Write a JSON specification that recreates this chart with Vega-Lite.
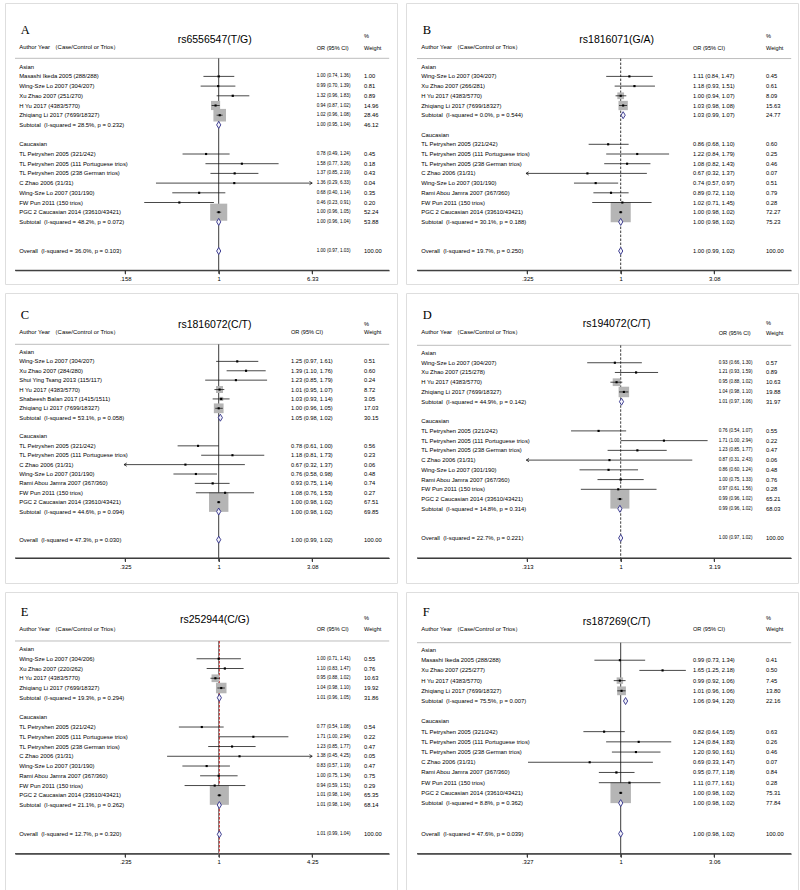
{
"$schema":"https://vega.github.io/schema/vega-lite/v6.json",
"background":"white",
"padding":{"left":4,"top":2,"right":4,"bottom":4},
"config":{"view":{"stroke":"#dedede","strokeWidth":1},"text":{"font":"Liberation Sans","fontSize":5.9,"align":"left","baseline":"middle","color":"#000000"}},
"datasets":{
"A":[
{"row":0,"label":"Asian","kind":"group"},
{"row":1,"label":"Masashi Ikeda 2005 (288/288)","kind":"study","or":1.00,"lo":0.74,"hi":1.36,"w":1.00,"ci":"1.00 (0.74, 1.36)","wt":"1.00"},
{"row":2,"label":"Wing-Sze Lo 2007 (304/207)","kind":"study","or":0.99,"lo":0.70,"hi":1.39,"w":0.81,"ci":"0.99 (0.70, 1.39)","wt":"0.81"},
{"row":3,"label":"Xu Zhao 2007 (251/270)","kind":"study","or":1.32,"lo":0.96,"hi":1.83,"w":0.89,"ci":"1.32 (0.96, 1.83)","wt":"0.89"},
{"row":4,"label":"H Yu 2017 (4383/5770)","kind":"study","or":0.94,"lo":0.87,"hi":1.02,"w":14.96,"ci":"0.94 (0.87, 1.02)","wt":"14.96"},
{"row":5,"label":"Zhiqiang Li 2017 (7699/18327)","kind":"study","or":1.02,"lo":0.96,"hi":1.08,"w":28.46,"ci":"1.02 (0.96, 1.08)","wt":"28.46"},
{"row":6,"label":"Subtotal\u00a0 (I-squared = 28.5%, p = 0.232)","kind":"sub","or":1.00,"lo":0.95,"hi":1.04,"w":46.12,"ci":"1.00 (0.95, 1.04)","wt":"46.12"},
{"row":8,"label":"Caucasian","kind":"group"},
{"row":9,"label":"TL Petryshen 2005 (321/242)","kind":"study","or":0.78,"lo":0.49,"hi":1.24,"w":0.45,"ci":"0.78 (0.49, 1.24)","wt":"0.45"},
{"row":10,"label":"TL Petryshen 2005 (111 Portuguese trios)","kind":"study","or":1.58,"lo":0.77,"hi":3.26,"w":0.18,"ci":"1.58 (0.77, 3.26)","wt":"0.18"},
{"row":11,"label":"TL Petryshen 2005 (238 German trios)","kind":"study","or":1.37,"lo":0.85,"hi":2.19,"w":0.43,"ci":"1.37 (0.85, 2.19)","wt":"0.43"},
{"row":12,"label":"C Zhao 2006 (31/31)","kind":"study","or":1.36,"lo":0.29,"hi":6.33,"w":0.04,"ci":"1.36 (0.29, 6.33)","wt":"0.04"},
{"row":13,"label":"Wing-Sze Lo 2007 (301/190)","kind":"study","or":0.68,"lo":0.40,"hi":1.14,"w":0.35,"ci":"0.68 (0.40, 1.14)","wt":"0.35"},
{"row":14,"label":"FW Pun 2011 (150 trios)","kind":"study","or":0.46,"lo":0.23,"hi":0.91,"w":0.20,"ci":"0.46 (0.23, 0.91)","wt":"0.20"},
{"row":15,"label":"PGC 2 Caucasian 2014 (33610/43421)","kind":"study","or":1.00,"lo":0.96,"hi":1.05,"w":52.24,"ci":"1.00 (0.96, 1.05)","wt":"52.24"},
{"row":16,"label":"Subtotal\u00a0 (I-squared = 48.2%, p = 0.072)","kind":"sub","or":1.00,"lo":0.96,"hi":1.04,"w":53.88,"ci":"1.00 (0.96, 1.04)","wt":"53.88"},
{"row":19,"label":"Overall\u00a0 (I-squared = 36.0%, p = 0.103)","kind":"all","or":1.00,"lo":0.97,"hi":1.03,"w":100.00,"ci":"1.00 (0.97, 1.03)","wt":"100.00"}
],
"B":[
{"row":0,"label":"Asian","kind":"group"},
{"row":1,"label":"Wing-Sze Lo 2007 (304/207)","kind":"study","or":1.11,"lo":0.84,"hi":1.47,"w":0.45,"ci":"1.11 (0.84, 1.47)","wt":"0.45"},
{"row":2,"label":"Xu Zhao 2007 (266/281)","kind":"study","or":1.18,"lo":0.93,"hi":1.51,"w":0.61,"ci":"1.18 (0.93, 1.51)","wt":"0.61"},
{"row":3,"label":"H Yu 2017 (4383/5770)","kind":"study","or":1.00,"lo":0.94,"hi":1.07,"w":8.09,"ci":"1.00 (0.94, 1.07)","wt":"8.09"},
{"row":4,"label":"Zhiqiang Li 2017 (7699/18327)","kind":"study","or":1.03,"lo":0.98,"hi":1.08,"w":15.63,"ci":"1.03 (0.98, 1.08)","wt":"15.63"},
{"row":5,"label":"Subtotal\u00a0 (I-squared = 0.0%, p = 0.544)","kind":"sub","or":1.03,"lo":0.99,"hi":1.07,"w":24.77,"ci":"1.03 (0.99, 1.07)","wt":"24.77"},
{"row":7,"label":"Caucasian","kind":"group"},
{"row":8,"label":"TL Petryshen 2005 (321/242)","kind":"study","or":0.86,"lo":0.68,"hi":1.10,"w":0.60,"ci":"0.86 (0.68, 1.10)","wt":"0.60"},
{"row":9,"label":"TL Petryshen 2005 (111 Portuguese trios)","kind":"study","or":1.22,"lo":0.84,"hi":1.79,"w":0.25,"ci":"1.22 (0.84, 1.79)","wt":"0.25"},
{"row":10,"label":"TL Petryshen 2005 (238 German trios)","kind":"study","or":1.08,"lo":0.82,"hi":1.43,"w":0.46,"ci":"1.08 (0.82, 1.43)","wt":"0.46"},
{"row":11,"label":"C Zhao 2006 (31/31)","kind":"study","or":0.67,"lo":0.32,"hi":1.37,"w":0.07,"ci":"0.67 (0.32, 1.37)","wt":"0.07"},
{"row":12,"label":"Wing-Sze Lo 2007 (301/190)","kind":"study","or":0.74,"lo":0.57,"hi":0.97,"w":0.51,"ci":"0.74 (0.57, 0.97)","wt":"0.51"},
{"row":13,"label":"Rami Abou Jamra 2007 (367/360)","kind":"study","or":0.89,"lo":0.72,"hi":1.10,"w":0.79,"ci":"0.89 (0.72, 1.10)","wt":"0.79"},
{"row":14,"label":"FW Pun 2011 (150 trios)","kind":"study","or":1.02,"lo":0.71,"hi":1.45,"w":0.28,"ci":"1.02 (0.71, 1.45)","wt":"0.28"},
{"row":15,"label":"PGC 2 Caucasian 2014 (33610/43421)","kind":"study","or":1.00,"lo":0.98,"hi":1.02,"w":72.27,"ci":"1.00 (0.98, 1.02)","wt":"72.27"},
{"row":16,"label":"Subtotal\u00a0 (I-squared = 30.1%, p = 0.188)","kind":"sub","or":1.00,"lo":0.98,"hi":1.02,"w":75.23,"ci":"1.00 (0.98, 1.02)","wt":"75.23"},
{"row":19,"label":"Overall\u00a0 (I-squared = 19.7%, p = 0.250)","kind":"all","or":1.00,"lo":0.99,"hi":1.02,"w":100.00,"ci":"1.00 (0.99, 1.02)","wt":"100.00"}
],
"C":[
{"row":0,"label":"Asian","kind":"group"},
{"row":1,"label":"Wing-Sze Lo 2007 (304/207)","kind":"study","or":1.25,"lo":0.97,"hi":1.61,"w":0.51,"ci":"1.25 (0.97, 1.61)","wt":"0.51"},
{"row":2,"label":"Xu Zhao 2007 (284/280)","kind":"study","or":1.39,"lo":1.10,"hi":1.76,"w":0.60,"ci":"1.39 (1.10, 1.76)","wt":"0.60"},
{"row":3,"label":"Shui Ying Tsang 2013 (115/117)","kind":"study","or":1.23,"lo":0.85,"hi":1.79,"w":0.24,"ci":"1.23 (0.85, 1.79)","wt":"0.24"},
{"row":4,"label":"H Yu 2017 (4383/5770)","kind":"study","or":1.01,"lo":0.95,"hi":1.07,"w":8.72,"ci":"1.01 (0.95, 1.07)","wt":"8.72"},
{"row":5,"label":"Shabeesh Balan 2017 (1415/1511)","kind":"study","or":1.03,"lo":0.93,"hi":1.14,"w":3.05,"ci":"1.03 (0.93, 1.14)","wt":"3.05"},
{"row":6,"label":"Zhiqiang Li 2017 (7699/18327)","kind":"study","or":1.00,"lo":0.96,"hi":1.05,"w":17.03,"ci":"1.00 (0.96, 1.05)","wt":"17.03"},
{"row":7,"label":"Subtotal\u00a0 (I-squared = 53.1%, p = 0.058)","kind":"sub","or":1.02,"lo":0.98,"hi":1.06,"w":30.15,"ci":"1.05 (0.98, 1.02)","wt":"30.15"},
{"row":9,"label":"Caucasian","kind":"group"},
{"row":10,"label":"TL Petryshen 2005 (321/242)","kind":"study","or":0.78,"lo":0.61,"hi":1.00,"w":0.56,"ci":"0.78 (0.61, 1.00)","wt":"0.56"},
{"row":11,"label":"TL Petryshen 2005 (111 Portuguese trios)","kind":"study","or":1.18,"lo":0.81,"hi":1.73,"w":0.23,"ci":"1.18 (0.81, 1.73)","wt":"0.23"},
{"row":12,"label":"C Zhao 2006 (31/31)","kind":"study","or":0.67,"lo":0.32,"hi":1.37,"w":0.06,"ci":"0.67 (0.32, 1.37)","wt":"0.06"},
{"row":13,"label":"Wing-Sze Lo 2007 (301/190)","kind":"study","or":0.76,"lo":0.58,"hi":0.98,"w":0.48,"ci":"0.76 (0.58, 0.98)","wt":"0.48"},
{"row":14,"label":"Rami Abou Jamra 2007 (367/360)","kind":"study","or":0.93,"lo":0.75,"hi":1.14,"w":0.74,"ci":"0.93 (0.75, 1.14)","wt":"0.74"},
{"row":15,"label":"FW Pun 2011 (150 trios)","kind":"study","or":1.08,"lo":0.76,"hi":1.53,"w":0.27,"ci":"1.08 (0.76, 1.53)","wt":"0.27"},
{"row":16,"label":"PGC 2 Caucasian 2014 (33610/43421)","kind":"study","or":1.00,"lo":0.98,"hi":1.02,"w":67.51,"ci":"1.00 (0.98, 1.02)","wt":"67.51"},
{"row":17,"label":"Subtotal\u00a0 (I-squared = 44.6%, p = 0.094)","kind":"sub","or":1.00,"lo":0.98,"hi":1.02,"w":69.85,"ci":"1.00 (0.98, 1.02)","wt":"69.85"},
{"row":20,"label":"Overall\u00a0 (I-squared = 47.3%, p = 0.030)","kind":"all","or":1.00,"lo":0.99,"hi":1.02,"w":100.00,"ci":"1.00 (0.99, 1.02)","wt":"100.00"}
],
"D":[
{"row":0,"label":"Asian","kind":"group"},
{"row":1,"label":"Wing-Sze Lo 2007 (304/207)","kind":"study","or":0.93,"lo":0.66,"hi":1.30,"w":0.57,"ci":"0.93 (0.66, 1.30)","wt":"0.57"},
{"row":2,"label":"Xu Zhao 2007 (215/278)","kind":"study","or":1.21,"lo":0.93,"hi":1.59,"w":0.89,"ci":"1.21 (0.93, 1.59)","wt":"0.89"},
{"row":3,"label":"H Yu 2017 (4383/5770)","kind":"study","or":0.95,"lo":0.88,"hi":1.02,"w":10.63,"ci":"0.95 (0.88, 1.02)","wt":"10.63"},
{"row":4,"label":"Zhiqiang Li 2017 (7699/18327)","kind":"study","or":1.04,"lo":0.98,"hi":1.10,"w":19.88,"ci":"1.04 (0.98, 1.10)","wt":"19.88"},
{"row":5,"label":"Subtotal\u00a0 (I-squared = 44.9%, p = 0.142)","kind":"sub","or":1.01,"lo":0.97,"hi":1.06,"w":31.97,"ci":"1.01 (0.97, 1.06)","wt":"31.97"},
{"row":7,"label":"Caucasian","kind":"group"},
{"row":8,"label":"TL Petryshen 2005 (321/242)","kind":"study","or":0.76,"lo":0.54,"hi":1.07,"w":0.55,"ci":"0.76 (0.54, 1.07)","wt":"0.55"},
{"row":9,"label":"TL Petryshen 2005 (111 Portuguese trios)","kind":"study","or":1.71,"lo":1.00,"hi":2.94,"w":0.22,"ci":"1.71 (1.00, 2.94)","wt":"0.22"},
{"row":10,"label":"TL Petryshen 2005 (238 German trios)","kind":"study","or":1.23,"lo":0.85,"hi":1.77,"w":0.47,"ci":"1.23 (0.85, 1.77)","wt":"0.47"},
{"row":11,"label":"C Zhao 2006 (31/31)","kind":"study","or":0.87,"lo":0.31,"hi":2.43,"w":0.06,"ci":"0.87 (0.31, 2.43)","wt":"0.06"},
{"row":12,"label":"Wing-Sze Lo 2007 (301/190)","kind":"study","or":0.86,"lo":0.60,"hi":1.24,"w":0.48,"ci":"0.86 (0.60, 1.24)","wt":"0.48"},
{"row":13,"label":"Rami Abou Jamra 2007 (367/360)","kind":"study","or":1.00,"lo":0.75,"hi":1.33,"w":0.76,"ci":"1.00 (0.75, 1.33)","wt":"0.76"},
{"row":14,"label":"FW Pun 2011 (150 trios)","kind":"study","or":0.97,"lo":0.61,"hi":1.56,"w":0.28,"ci":"0.97 (0.61, 1.56)","wt":"0.28"},
{"row":15,"label":"PGC 2 Caucasian 2014 (33610/43421)","kind":"study","or":0.99,"lo":0.96,"hi":1.02,"w":65.21,"ci":"0.99 (0.96, 1.02)","wt":"65.21"},
{"row":16,"label":"Subtotal\u00a0 (I-squared = 14.8%, p = 0.314)","kind":"sub","or":0.99,"lo":0.96,"hi":1.02,"w":68.03,"ci":"0.99 (0.96, 1.02)","wt":"68.03"},
{"row":19,"label":"Overall\u00a0 (I-squared = 22.7%, p = 0.221)","kind":"all","or":1.00,"lo":0.97,"hi":1.02,"w":100.00,"ci":"1.00 (0.97, 1.02)","wt":"100.00"}
],
"E":[
{"row":0,"label":"Asian","kind":"group"},
{"row":1,"label":"Wing-Sze Lo 2007 (304/206)","kind":"study","or":1.00,"lo":0.71,"hi":1.41,"w":0.55,"ci":"1.00 (0.71, 1.41)","wt":"0.55"},
{"row":2,"label":"Xu Zhao 2007 (220/262)","kind":"study","or":1.10,"lo":0.83,"hi":1.47,"w":0.76,"ci":"1.10 (0.83, 1.47)","wt":"0.76"},
{"row":3,"label":"H Yu 2017 (4383/5770)","kind":"study","or":0.95,"lo":0.88,"hi":1.02,"w":10.63,"ci":"0.95 (0.88, 1.02)","wt":"10.63"},
{"row":4,"label":"Zhiqiang Li 2017 (7699/18327)","kind":"study","or":1.04,"lo":0.98,"hi":1.10,"w":19.92,"ci":"1.04 (0.98, 1.10)","wt":"19.92"},
{"row":5,"label":"Subtotal\u00a0 (I-squared = 19.3%, p = 0.294)","kind":"sub","or":1.01,"lo":0.96,"hi":1.05,"w":31.86,"ci":"1.01 (0.96, 1.05)","wt":"31.86"},
{"row":7,"label":"Caucasian","kind":"group"},
{"row":8,"label":"TL Petryshen 2005 (321/242)","kind":"study","or":0.77,"lo":0.54,"hi":1.08,"w":0.54,"ci":"0.77 (0.54, 1.08)","wt":"0.54"},
{"row":9,"label":"TL Petryshen 2005 (111 Portuguese trios)","kind":"study","or":1.71,"lo":1.00,"hi":2.94,"w":0.22,"ci":"1.71 (1.00, 2.94)","wt":"0.22"},
{"row":10,"label":"TL Petryshen 2005 (238 German trios)","kind":"study","or":1.23,"lo":0.85,"hi":1.77,"w":0.47,"ci":"1.23 (0.85, 1.77)","wt":"0.47"},
{"row":11,"label":"C Zhao 2006 (31/31)","kind":"study","or":1.38,"lo":0.45,"hi":4.25,"w":0.05,"ci":"1.38 (0.45, 4.25)","wt":"0.05"},
{"row":12,"label":"Wing-Sze Lo 2007 (301/190)","kind":"study","or":0.83,"lo":0.57,"hi":1.19,"w":0.47,"ci":"0.83 (0.57, 1.19)","wt":"0.47"},
{"row":13,"label":"Rami Abou Jamra 2007 (367/360)","kind":"study","or":1.00,"lo":0.75,"hi":1.34,"w":0.75,"ci":"1.00 (0.75, 1.34)","wt":"0.75"},
{"row":14,"label":"FW Pun 2011 (150 trios)","kind":"study","or":0.94,"lo":0.59,"hi":1.51,"w":0.29,"ci":"0.94 (0.59, 1.51)","wt":"0.29"},
{"row":15,"label":"PGC 2 Caucasian 2014 (33610/43421)","kind":"study","or":1.01,"lo":0.98,"hi":1.04,"w":65.35,"ci":"1.01 (0.98, 1.04)","wt":"65.35"},
{"row":16,"label":"Subtotal\u00a0 (I-squared = 21.1%, p = 0.262)","kind":"sub","or":1.01,"lo":0.98,"hi":1.04,"w":68.14,"ci":"1.01 (0.98, 1.04)","wt":"68.14"},
{"row":19,"label":"Overall\u00a0 (I-squared = 12.7%, p = 0.320)","kind":"all","or":1.01,"lo":0.99,"hi":1.04,"w":100.00,"ci":"1.01 (0.99, 1.04)","wt":"100.00"}
],
"F":[
{"row":0,"label":"Asian","kind":"group"},
{"row":1,"label":"Masashi Ikeda 2005 (288/288)","kind":"study","or":0.99,"lo":0.73,"hi":1.34,"w":0.41,"ci":"0.99 (0.73, 1.34)","wt":"0.41"},
{"row":2,"label":"Xu Zhao 2007 (225/277)","kind":"study","or":1.65,"lo":1.25,"hi":2.18,"w":0.50,"ci":"1.65 (1.25, 2.18)","wt":"0.50"},
{"row":3,"label":"H Yu 2017 (4383/5770)","kind":"study","or":0.99,"lo":0.92,"hi":1.06,"w":7.45,"ci":"0.99 (0.92, 1.06)","wt":"7.45"},
{"row":4,"label":"Zhiqiang Li 2017 (7699/18327)","kind":"study","or":1.01,"lo":0.96,"hi":1.06,"w":13.80,"ci":"1.01 (0.96, 1.06)","wt":"13.80"},
{"row":5,"label":"Subtotal\u00a0 (I-squared = 75.5%, p = 0.007)","kind":"sub","or":1.06,"lo":0.94,"hi":1.20,"w":22.16,"ci":"1.06 (0.94, 1.20)","wt":"22.16"},
{"row":7,"label":"Caucasian","kind":"group"},
{"row":8,"label":"TL Petryshen 2005 (321/242)","kind":"study","or":0.82,"lo":0.64,"hi":1.05,"w":0.63,"ci":"0.82 (0.64, 1.05)","wt":"0.63"},
{"row":9,"label":"TL Petryshen 2005 (111 Portuguese trios)","kind":"study","or":1.24,"lo":0.84,"hi":1.83,"w":0.26,"ci":"1.24 (0.84, 1.83)","wt":"0.26"},
{"row":10,"label":"TL Petryshen 2005 (238 German trios)","kind":"study","or":1.20,"lo":0.90,"hi":1.61,"w":0.46,"ci":"1.20 (0.90, 1.61)","wt":"0.46"},
{"row":11,"label":"C Zhao 2006 (31/31)","kind":"study","or":0.69,"lo":0.33,"hi":1.47,"w":0.07,"ci":"0.69 (0.33, 1.47)","wt":"0.07"},
{"row":12,"label":"Rami Abou Jamra 2007 (367/360)","kind":"study","or":0.95,"lo":0.77,"hi":1.18,"w":0.84,"ci":"0.95 (0.77, 1.18)","wt":"0.84"},
{"row":13,"label":"FW Pun 2011 (150 trios)","kind":"study","or":1.11,"lo":0.77,"hi":1.61,"w":0.28,"ci":"1.11 (0.77, 1.61)","wt":"0.28"},
{"row":14,"label":"PGC 2 Caucasian 2014 (33610/43421)","kind":"study","or":1.00,"lo":0.98,"hi":1.02,"w":75.31,"ci":"1.00 (0.98, 1.02)","wt":"75.31"},
{"row":15,"label":"Subtotal\u00a0 (I-squared = 8.8%, p = 0.362)","kind":"sub","or":1.00,"lo":0.98,"hi":1.02,"w":77.84,"ci":"1.00 (0.98, 1.02)","wt":"77.84"},
{"row":18,"label":"Overall\u00a0 (I-squared = 47.6%, p = 0.039)","kind":"all","or":1.00,"lo":0.98,"hi":1.02,"w":100.00,"ci":"1.00 (0.98, 1.02)","wt":"100.00"}
]
},
"vconcat":[
{"hconcat":[
{"width":392,"height":281,"data":{"name":"A"},"layer":[
{"data":{"values":[{"from":0.01795,"to":28.931,"r":-0.866}]},"mark":{"type":"rule","color":"#bdbdbd","strokeWidth":1},"encoding":{"x":{"field":"from","type":"quantitative"},"x2":{"field":"to"},"y":{"field":"r","type":"quantitative","scale":{"domain":[-6.567,22.402],"reverse":true,"nice":false,"zero":false},"axis":null}}},
{"data":{"values":[{"from":0.01795,"to":28.931,"r":20.99}]},"mark":{"type":"rule","color":"#333333","strokeWidth":1},"encoding":{"x":{"field":"from","type":"quantitative"},"x2":{"field":"to"},"y":{"field":"r","type":"quantitative","axis":null}}},
{"data":{"values":[{}]},"mark":{"type":"rule","color":"#3c3c3c","strokeWidth":1},"encoding":{"x":{"datum":1,"type":"quantitative","scale":{"type":"log","domain":[0.01795,28.931],"range":[10,384.2],"nice":false}},"y":{"datum":-0.866,"type":"quantitative","axis":null},"y2":{"datum":21.35}}},
{"data":{"values":[{}]},"mark":{"type":"rule","color":"#333333","strokeWidth":0.9},"encoding":{"x":{"datum":0.15798,"type":"quantitative"},"y":{"datum":20.99,"type":"quantitative","axis":null},"y2":{"datum":21.35}}},
{"data":{"values":[{}]},"mark":{"type":"rule","color":"#333333","strokeWidth":0.9},"encoding":{"x":{"datum":6.33,"type":"quantitative"},"y":{"datum":20.99,"type":"quantitative","axis":null},"y2":{"datum":21.35}}},
{"transform":[{"filter":"datum.kind == 'study'"}],"mark":{"type":"square","color":"#b5b5b5","opacity":1},"encoding":{"x":{"field":"or","type":"quantitative"},"y":{"field":"row","type":"quantitative","axis":null},"size":{"field":"w","type":"quantitative","scale":{"domain":[0,52.24],"range":[0,420]},"legend":null}}},
{"transform":[{"filter":"datum.kind == 'study'"}],"mark":{"type":"rule","color":"#1a1a1a","strokeWidth":0.8},"encoding":{"x":{"field":"lo","type":"quantitative","axis":{"values":[0.15798,1,6.33],"labelExpr":"datum.value < 0.99 ? substring(format(datum.value, '.3f'), 1) : (datum.value > 1.01 ? format(datum.value, '.2f') : '1')","title":null,"grid":false,"domain":true,"ticks":true,"labels":true,"offset":-13.7,"domainColor":"#333333","domainWidth":0.9,"tickColor":"#333333","tickWidth":0.9,"tickSize":3.5,"labelFont":"Liberation Sans","labelFontSize":5.9,"labelColor":"#000000","labelPadding":1.5,"labelFlush":false,"labelOverlap":false}},"x2":{"field":"hi"},"y":{"field":"row","type":"quantitative","axis":null}}},
{"transform":[{"filter":"datum.kind == 'study'"}],"mark":{"type":"square","color":"#000000","size":4.5,"opacity":1},"encoding":{"x":{"field":"or","type":"quantitative"},"y":{"field":"row","type":"quantitative","axis":null}}},
{"transform":[{"filter":"datum.kind == 'study' && datum.hi >= 6.32"}],"mark":{"type":"point","shape":"M-1,-0.6L0,0L-1,0.6","filled":false,"color":"#1a1a1a","strokeWidth":0.8,"size":30,"opacity":1},"encoding":{"x":{"field":"hi","type":"quantitative"},"y":{"field":"row","type":"quantitative","axis":null}}},
{"transform":[{"filter":"datum.kind == 'sub' || datum.kind == 'all'"}],"mark":{"type":"point","shape":"M0,-1L0.6,0L0,1L-0.6,0Z","filled":true,"fill":"#f2f2fa","stroke":"#2f2f88","strokeWidth":0.9,"size":49,"opacity":1},"encoding":{"x":{"field":"or","type":"quantitative"},"y":{"field":"row","type":"quantitative","axis":null}}},
{"mark":{"type":"text"},"encoding":{"x":{"datum":0.019501,"type":"quantitative"},"y":{"field":"row","type":"quantitative","axis":null},"text":{"field":"label"}}},
{"transform":[{"filter":"isValid(datum.ci)"}],"mark":{"type":"text","fontSize":4.6},"encoding":{"x":{"datum":6.91753,"type":"quantitative"},"y":{"field":"row","type":"quantitative","axis":null},"text":{"field":"ci"}}},
{"transform":[{"filter":"isValid(datum.wt)"}],"mark":{"type":"text","fontSize":5.8},"encoding":{"x":{"datum":17.5946,"type":"quantitative"},"y":{"field":"row","type":"quantitative","axis":null},"text":{"field":"wt"}}},
{"data":{"values":[{}]},"mark":{"type":"text","text":"A","font":"Liberation Serif","fontSize":12.5},"encoding":{"x":{"datum":0.020089,"type":"quantitative"},"y":{"datum":-3.814,"type":"quantitative","axis":null}}},
{"data":{"values":[{}]},"mark":{"type":"text","text":"rs6556547(T/G)","fontSize":10.5,"align":"center"},"encoding":{"x":{"datum":0.924093,"type":"quantitative"},"y":{"datum":-2.722,"type":"quantitative","axis":null}}},
{"data":{"values":[{}]},"mark":{"type":"text","text":"Author Year （Case/Control or Trios）"},"encoding":{"x":{"datum":0.019501,"type":"quantitative"},"y":{"datum":-2.062,"type":"quantitative","axis":null}}},
{"data":{"values":[{}]},"mark":{"type":"text","text":"OR (95% CI)","fontSize":5.6},"encoding":{"x":{"datum":6.91753,"type":"quantitative"},"y":{"datum":-1.959,"type":"quantitative","axis":null}}},
{"data":{"values":[{}]},"mark":{"type":"text","text":"%","fontSize":5.6},"encoding":{"x":{"datum":17.5946,"type":"quantitative"},"y":{"datum":-3.165,"type":"quantitative","axis":null}}},
{"data":{"values":[{}]},"mark":{"type":"text","text":"Weight","fontSize":5.6},"encoding":{"x":{"datum":17.5946,"type":"quantitative"},"y":{"datum":-1.959,"type":"quantitative","axis":null}}}
]},
{"width":392,"height":281,"data":{"name":"B"},"layer":[
{"data":{"values":[{"from":0.086227,"to":7.77808,"r":-0.84}]},"mark":{"type":"rule","color":"#bdbdbd","strokeWidth":1},"encoding":{"x":{"field":"from","type":"quantitative"},"x2":{"field":"to"},"y":{"field":"r","type":"quantitative","scale":{"domain":[-6.567,22.402],"reverse":true,"nice":false,"zero":false},"axis":null}}},
{"data":{"values":[{"from":0.086227,"to":7.77808,"r":20.99}]},"mark":{"type":"rule","color":"#333333","strokeWidth":1},"encoding":{"x":{"field":"from","type":"quantitative"},"x2":{"field":"to"},"y":{"field":"r","type":"quantitative","axis":null}}},
{"data":{"values":[{}]},"mark":{"type":"rule","color":"#3c3c3c","strokeWidth":1,"strokeDash":[2.5,1.5]},"encoding":{"x":{"datum":1,"type":"quantitative","scale":{"type":"log","domain":[0.086227,7.77808],"range":[11,385.2],"nice":false}},"y":{"datum":-0.84,"type":"quantitative","axis":null},"y2":{"datum":20.99}}},
{"data":{"values":[{}]},"mark":{"type":"rule","color":"#333333","strokeWidth":0.9},"encoding":{"x":{"datum":0.32468,"type":"quantitative"},"y":{"datum":20.99,"type":"quantitative","axis":null},"y2":{"datum":21.35}}},
{"data":{"values":[{}]},"mark":{"type":"rule","color":"#333333","strokeWidth":0.9},"encoding":{"x":{"datum":1,"type":"quantitative"},"y":{"datum":20.99,"type":"quantitative","axis":null},"y2":{"datum":21.35}}},
{"data":{"values":[{}]},"mark":{"type":"rule","color":"#333333","strokeWidth":0.9},"encoding":{"x":{"datum":3.08,"type":"quantitative"},"y":{"datum":20.99,"type":"quantitative","axis":null},"y2":{"datum":21.35}}},
{"transform":[{"filter":"datum.kind == 'study'"}],"mark":{"type":"square","color":"#b5b5b5","opacity":1},"encoding":{"x":{"field":"or","type":"quantitative"},"y":{"field":"row","type":"quantitative","axis":null},"size":{"field":"w","type":"quantitative","scale":{"domain":[0,72.27],"range":[0,420]},"legend":null}}},
{"transform":[{"filter":"datum.kind == 'study'"}],"mark":{"type":"rule","color":"#1a1a1a","strokeWidth":0.8},"encoding":{"x":{"field":"lo","type":"quantitative","axis":{"values":[0.32468,1,3.08],"labelExpr":"datum.value < 0.99 ? substring(format(datum.value, '.3f'), 1) : (datum.value > 1.01 ? format(datum.value, '.2f') : '1')","title":null,"grid":false,"domain":true,"ticks":true,"labels":true,"offset":-13.7,"domainColor":"#333333","domainWidth":0.9,"tickColor":"#333333","tickWidth":0.9,"tickSize":3.5,"labelFont":"Liberation Sans","labelFontSize":5.9,"labelColor":"#000000","labelPadding":1.5,"labelFlush":false,"labelOverlap":false}},"x2":{"field":"hi"},"y":{"field":"row","type":"quantitative","axis":null}}},
{"transform":[{"filter":"datum.kind == 'study'"}],"mark":{"type":"square","color":"#000000","size":4.5,"opacity":1},"encoding":{"x":{"field":"or","type":"quantitative"},"y":{"field":"row","type":"quantitative","axis":null}}},
{"transform":[{"filter":"datum.kind == 'study' && datum.lo < 0.3247"}],"mark":{"type":"point","shape":"M1,-0.6L0,0L1,0.6","filled":false,"color":"#1a1a1a","strokeWidth":0.8,"size":30,"opacity":1},"encoding":{"x":{"field":"lo","type":"quantitative"},"y":{"field":"row","type":"quantitative","axis":null}}},
{"transform":[{"filter":"datum.kind == 'sub' || datum.kind == 'all'"}],"mark":{"type":"point","shape":"M0,-1L0.6,0L0,1L-0.6,0Z","filled":true,"fill":"#f2f2fa","stroke":"#2f2f88","strokeWidth":0.9,"size":49,"opacity":1},"encoding":{"x":{"field":"or","type":"quantitative"},"y":{"field":"row","type":"quantitative","axis":null}}},
{"mark":{"type":"text"},"encoding":{"x":{"datum":0.090694,"type":"quantitative"},"y":{"field":"row","type":"quantitative","axis":null},"text":{"field":"label"}}},
{"transform":[{"filter":"isValid(datum.ci)"}],"mark":{"type":"text","fontSize":5.7},"encoding":{"x":{"datum":2.38669,"type":"quantitative"},"y":{"field":"row","type":"quantitative","axis":null},"text":{"field":"ci"}}},
{"transform":[{"filter":"isValid(datum.wt)"}],"mark":{"type":"text","fontSize":5.8},"encoding":{"x":{"datum":5.74392,"type":"quantitative"},"y":{"field":"row","type":"quantitative","axis":null},"text":{"field":"wt"}}},
{"data":{"values":[{}]},"mark":{"type":"text","text":"B","font":"Liberation Serif","fontSize":12.5},"encoding":{"x":{"datum":0.092352,"type":"quantitative"},"y":{"datum":-3.814,"type":"quantitative","axis":null}}},
{"data":{"values":[{}]},"mark":{"type":"text","text":"rs1816071(G/A)","fontSize":10.5,"align":"center"},"encoding":{"x":{"datum":0.953016,"type":"quantitative"},"y":{"datum":-2.722,"type":"quantitative","axis":null}}},
{"data":{"values":[{}]},"mark":{"type":"text","text":"Author Year （Case/Control or Trios）"},"encoding":{"x":{"datum":0.090694,"type":"quantitative"},"y":{"datum":-2.062,"type":"quantitative","axis":null}}},
{"data":{"values":[{}]},"mark":{"type":"text","text":"OR (95% CI)","fontSize":5.6},"encoding":{"x":{"datum":2.38669,"type":"quantitative"},"y":{"datum":-1.959,"type":"quantitative","axis":null}}},
{"data":{"values":[{}]},"mark":{"type":"text","text":"%","fontSize":5.6},"encoding":{"x":{"datum":5.74392,"type":"quantitative"},"y":{"datum":-3.165,"type":"quantitative","axis":null}}},
{"data":{"values":[{}]},"mark":{"type":"text","text":"Weight","fontSize":5.6},"encoding":{"x":{"datum":5.74392,"type":"quantitative"},"y":{"datum":-1.959,"type":"quantitative","axis":null}}}
]}
],"spacing":7},
{"hconcat":[
{"width":392,"height":290,"data":{"name":"C"},"layer":[
{"data":{"values":[{"from":0.086227,"to":7.77808,"r":-0.8205}]},"mark":{"type":"rule","color":"#bdbdbd","strokeWidth":1},"encoding":{"x":{"field":"from","type":"quantitative"},"x2":{"field":"to"},"y":{"field":"r","type":"quantitative","scale":{"domain":[-6.2866,24.6138],"reverse":true,"nice":false,"zero":false},"axis":null}}},
{"data":{"values":[{"from":0.086227,"to":7.77808,"r":21.95}]},"mark":{"type":"rule","color":"#333333","strokeWidth":1},"encoding":{"x":{"field":"from","type":"quantitative"},"x2":{"field":"to"},"y":{"field":"r","type":"quantitative","axis":null}}},
{"data":{"values":[{}]},"mark":{"type":"rule","color":"#3c3c3c","strokeWidth":1},"encoding":{"x":{"datum":1,"type":"quantitative","scale":{"type":"log","domain":[0.086227,7.77808],"range":[10,384.2],"nice":false}},"y":{"datum":-0.8205,"type":"quantitative","axis":null},"y2":{"datum":22.323}}},
{"data":{"values":[{}]},"mark":{"type":"rule","color":"#333333","strokeWidth":0.9},"encoding":{"x":{"datum":0.32468,"type":"quantitative"},"y":{"datum":21.95,"type":"quantitative","axis":null},"y2":{"datum":22.323}}},
{"data":{"values":[{}]},"mark":{"type":"rule","color":"#333333","strokeWidth":0.9},"encoding":{"x":{"datum":3.08,"type":"quantitative"},"y":{"datum":21.95,"type":"quantitative","axis":null},"y2":{"datum":22.323}}},
{"transform":[{"filter":"datum.kind == 'study'"}],"mark":{"type":"square","color":"#b5b5b5","opacity":1},"encoding":{"x":{"field":"or","type":"quantitative"},"y":{"field":"row","type":"quantitative","axis":null},"size":{"field":"w","type":"quantitative","scale":{"domain":[0,67.51],"range":[0,420]},"legend":null}}},
{"transform":[{"filter":"datum.kind == 'study'"}],"mark":{"type":"rule","color":"#1a1a1a","strokeWidth":0.8},"encoding":{"x":{"field":"lo","type":"quantitative","axis":{"values":[0.32468,1,3.08],"labelExpr":"datum.value < 0.99 ? substring(format(datum.value, '.3f'), 1) : (datum.value > 1.01 ? format(datum.value, '.2f') : '1')","title":null,"grid":false,"domain":true,"ticks":true,"labels":true,"offset":-25,"domainColor":"#333333","domainWidth":0.9,"tickColor":"#333333","tickWidth":0.9,"tickSize":3.5,"labelFont":"Liberation Sans","labelFontSize":5.9,"labelColor":"#000000","labelPadding":1.5,"labelFlush":false,"labelOverlap":false}},"x2":{"field":"hi"},"y":{"field":"row","type":"quantitative","axis":null}}},
{"transform":[{"filter":"datum.kind == 'study'"}],"mark":{"type":"square","color":"#000000","size":4.5,"opacity":1},"encoding":{"x":{"field":"or","type":"quantitative"},"y":{"field":"row","type":"quantitative","axis":null}}},
{"transform":[{"filter":"datum.kind == 'study' && datum.lo < 0.3247"}],"mark":{"type":"point","shape":"M1,-0.6L0,0L1,0.6","filled":false,"color":"#1a1a1a","strokeWidth":0.8,"size":30,"opacity":1},"encoding":{"x":{"field":"lo","type":"quantitative"},"y":{"field":"row","type":"quantitative","axis":null}}},
{"transform":[{"filter":"datum.kind == 'sub' || datum.kind == 'all'"}],"mark":{"type":"point","shape":"M0,-1L0.6,0L0,1L-0.6,0Z","filled":true,"fill":"#f2f2fa","stroke":"#2f2f88","strokeWidth":0.9,"size":49,"opacity":1},"encoding":{"x":{"field":"or","type":"quantitative"},"y":{"field":"row","type":"quantitative","axis":null}}},
{"mark":{"type":"text"},"encoding":{"x":{"datum":0.090694,"type":"quantitative"},"y":{"field":"row","type":"quantitative","axis":null},"text":{"field":"label"}}},
{"transform":[{"filter":"isValid(datum.ci)"}],"mark":{"type":"text","fontSize":5.7},"encoding":{"x":{"datum":2.38669,"type":"quantitative"},"y":{"field":"row","type":"quantitative","axis":null},"text":{"field":"ci"}}},
{"transform":[{"filter":"isValid(datum.wt)"}],"mark":{"type":"text","fontSize":5.8},"encoding":{"x":{"datum":5.74392,"type":"quantitative"},"y":{"field":"row","type":"quantitative","axis":null},"text":{"field":"wt"}}},
{"data":{"values":[{}]},"mark":{"type":"text","text":"C","font":"Liberation Serif","fontSize":12.5},"encoding":{"x":{"datum":0.092352,"type":"quantitative"},"y":{"datum":-3.9425,"type":"quantitative","axis":null}}},
{"data":{"values":[{}]},"mark":{"type":"text","text":"rs1816072(C/T)","fontSize":10.5,"align":"center"},"encoding":{"x":{"datum":0.953016,"type":"quantitative"},"y":{"datum":-2.9089,"type":"quantitative","axis":null}}},
{"data":{"values":[{}]},"mark":{"type":"text","text":"Author Year （Case/Control or Trios）"},"encoding":{"x":{"datum":0.090694,"type":"quantitative"},"y":{"datum":-2.0991,"type":"quantitative","axis":null}}},
{"data":{"values":[{}]},"mark":{"type":"text","text":"OR (95% CI)","fontSize":5.6},"encoding":{"x":{"datum":2.38669,"type":"quantitative"},"y":{"datum":-2.0991,"type":"quantitative","axis":null}}},
{"data":{"values":[{}]},"mark":{"type":"text","text":"%","fontSize":5.6},"encoding":{"x":{"datum":5.74392,"type":"quantitative"},"y":{"datum":-3.0155,"type":"quantitative","axis":null}}},
{"data":{"values":[{}]},"mark":{"type":"text","text":"Weight","fontSize":5.6},"encoding":{"x":{"datum":5.74392,"type":"quantitative"},"y":{"datum":-2.0991,"type":"quantitative","axis":null}}}
]},
{"width":392,"height":290,"data":{"name":"D"},"layer":[
{"data":{"values":[{"from":0.079881,"to":8.29206,"r":-0.7908}]},"mark":{"type":"rule","color":"#bdbdbd","strokeWidth":1},"encoding":{"x":{"field":"from","type":"quantitative"},"x2":{"field":"to"},"y":{"field":"r","type":"quantitative","scale":{"domain":[-6.1622,23.6217],"reverse":true,"nice":false,"zero":false},"axis":null}}},
{"data":{"values":[{"from":0.079881,"to":8.29206,"r":21.054}]},"mark":{"type":"rule","color":"#333333","strokeWidth":1},"encoding":{"x":{"field":"from","type":"quantitative"},"x2":{"field":"to"},"y":{"field":"r","type":"quantitative","axis":null}}},
{"data":{"values":[{}]},"mark":{"type":"rule","color":"#3c3c3c","strokeWidth":1,"strokeDash":[2.5,1.5]},"encoding":{"x":{"datum":1,"type":"quantitative","scale":{"type":"log","domain":[0.079881,8.29206],"range":[11,385.2],"nice":false}},"y":{"datum":-0.7908,"type":"quantitative","axis":null},"y2":{"datum":21.054}}},
{"data":{"values":[{}]},"mark":{"type":"rule","color":"#333333","strokeWidth":0.9},"encoding":{"x":{"datum":0.31348,"type":"quantitative"},"y":{"datum":21.054,"type":"quantitative","axis":null},"y2":{"datum":21.414}}},
{"data":{"values":[{}]},"mark":{"type":"rule","color":"#333333","strokeWidth":0.9},"encoding":{"x":{"datum":1,"type":"quantitative"},"y":{"datum":21.054,"type":"quantitative","axis":null},"y2":{"datum":21.414}}},
{"data":{"values":[{}]},"mark":{"type":"rule","color":"#333333","strokeWidth":0.9},"encoding":{"x":{"datum":3.19,"type":"quantitative"},"y":{"datum":21.054,"type":"quantitative","axis":null},"y2":{"datum":21.414}}},
{"transform":[{"filter":"datum.kind == 'study'"}],"mark":{"type":"square","color":"#b5b5b5","opacity":1},"encoding":{"x":{"field":"or","type":"quantitative"},"y":{"field":"row","type":"quantitative","axis":null},"size":{"field":"w","type":"quantitative","scale":{"domain":[0,65.21],"range":[0,420]},"legend":null}}},
{"transform":[{"filter":"datum.kind == 'study'"}],"mark":{"type":"rule","color":"#1a1a1a","strokeWidth":0.8},"encoding":{"x":{"field":"lo","type":"quantitative","axis":{"values":[0.31348,1,3.19],"labelExpr":"datum.value < 0.99 ? substring(format(datum.value, '.3f'), 1) : (datum.value > 1.01 ? format(datum.value, '.2f') : '1')","title":null,"grid":false,"domain":true,"ticks":true,"labels":true,"offset":-25,"domainColor":"#333333","domainWidth":0.9,"tickColor":"#333333","tickWidth":0.9,"tickSize":3.5,"labelFont":"Liberation Sans","labelFontSize":5.9,"labelColor":"#000000","labelPadding":1.5,"labelFlush":false,"labelOverlap":false}},"x2":{"field":"hi"},"y":{"field":"row","type":"quantitative","axis":null}}},
{"transform":[{"filter":"datum.kind == 'study'"}],"mark":{"type":"square","color":"#000000","size":4.5,"opacity":1},"encoding":{"x":{"field":"or","type":"quantitative"},"y":{"field":"row","type":"quantitative","axis":null}}},
{"transform":[{"filter":"datum.kind == 'study' && datum.lo < 0.3134"}],"mark":{"type":"point","shape":"M1,-0.6L0,0L1,0.6","filled":false,"color":"#1a1a1a","strokeWidth":0.8,"size":30,"opacity":1},"encoding":{"x":{"field":"lo","type":"quantitative"},"y":{"field":"row","type":"quantitative","axis":null}}},
{"transform":[{"filter":"datum.kind == 'sub' || datum.kind == 'all'"}],"mark":{"type":"point","shape":"M0,-1L0.6,0L0,1L-0.6,0Z","filled":true,"fill":"#f2f2fa","stroke":"#2f2f88","strokeWidth":0.9,"size":49,"opacity":1},"encoding":{"x":{"field":"or","type":"quantitative"},"y":{"field":"row","type":"quantitative","axis":null}}},
{"mark":{"type":"text"},"encoding":{"x":{"datum":0.084151,"type":"quantitative"},"y":{"field":"row","type":"quantitative","axis":null},"text":{"field":"label"}}},
{"transform":[{"filter":"isValid(datum.ci)"}],"mark":{"type":"text","fontSize":4.6},"encoding":{"x":{"datum":3.37305,"type":"quantitative"},"y":{"field":"row","type":"quantitative","axis":null},"text":{"field":"ci"}}},
{"transform":[{"filter":"isValid(datum.wt)"}],"mark":{"type":"text","fontSize":5.8},"encoding":{"x":{"datum":6.06584,"type":"quantitative"},"y":{"field":"row","type":"quantitative","axis":null},"text":{"field":"wt"}}},
{"data":{"values":[{}]},"mark":{"type":"text","text":"D","font":"Liberation Serif","fontSize":12.5},"encoding":{"x":{"datum":0.085738,"type":"quantitative"},"y":{"datum":-3.9027,"type":"quantitative","axis":null}}},
{"data":{"values":[{}]},"mark":{"type":"text","text":"rs194072(C/T)","fontSize":10.5,"align":"center"},"encoding":{"x":{"datum":0.951585,"type":"quantitative"},"y":{"datum":-3.0092,"type":"quantitative","axis":null}}},
{"data":{"values":[{}]},"mark":{"type":"text","text":"Author Year （Case/Control or Trios）"},"encoding":{"x":{"datum":0.084151,"type":"quantitative"},"y":{"datum":-2.126,"type":"quantitative","axis":null}}},
{"data":{"values":[{}]},"mark":{"type":"text","text":"OR (95% CI)","fontSize":5.6},"encoding":{"x":{"datum":3.37305,"type":"quantitative"},"y":{"datum":-2.0233,"type":"quantitative","axis":null}}},
{"data":{"values":[{}]},"mark":{"type":"text","text":"%","fontSize":5.6},"encoding":{"x":{"datum":6.06584,"type":"quantitative"},"y":{"datum":-3.0811,"type":"quantitative","axis":null}}},
{"data":{"values":[{}]},"mark":{"type":"text","text":"Weight","fontSize":5.6},"encoding":{"x":{"datum":6.06584,"type":"quantitative"},"y":{"datum":-2.0233,"type":"quantitative","axis":null}}}
]}
],"spacing":7},
{"hconcat":[
{"width":392,"height":298,"data":{"name":"E"},"layer":[
{"data":{"values":[{"from":0.042755,"to":13.9916,"r":-0.8203}]},"mark":{"type":"rule","color":"#bdbdbd","strokeWidth":1},"encoding":{"x":{"field":"from","type":"quantitative"},"x2":{"field":"to"},"y":{"field":"r","type":"quantitative","scale":{"domain":[-5.8446,24.7114],"reverse":true,"nice":false,"zero":false},"axis":null}}},
{"data":{"values":[{"from":0.042755,"to":13.9916,"r":20.989}]},"mark":{"type":"rule","color":"#333333","strokeWidth":1},"encoding":{"x":{"field":"from","type":"quantitative"},"x2":{"field":"to"},"y":{"field":"r","type":"quantitative","axis":null}}},
{"data":{"values":[{}]},"mark":{"type":"rule","color":"#666666","strokeWidth":1},"encoding":{"x":{"datum":1,"type":"quantitative","scale":{"type":"log","domain":[0.042755,13.9916],"range":[10,384.2],"nice":false}},"y":{"datum":-0.8203,"type":"quantitative","axis":null},"y2":{"datum":21.349}}},
{"data":{"values":[{}]},"mark":{"type":"rule","color":"#cc2a2a","strokeWidth":1,"strokeDash":[2.5,1.5]},"encoding":{"x":{"datum":1.01,"type":"quantitative"},"y":{"datum":-0.8203,"type":"quantitative","axis":null},"y2":{"datum":20.989}}},
{"data":{"values":[{}]},"mark":{"type":"rule","color":"#333333","strokeWidth":0.9},"encoding":{"x":{"datum":0.23529,"type":"quantitative"},"y":{"datum":20.989,"type":"quantitative","axis":null},"y2":{"datum":21.349}}},
{"data":{"values":[{}]},"mark":{"type":"rule","color":"#333333","strokeWidth":0.9},"encoding":{"x":{"datum":4.25,"type":"quantitative"},"y":{"datum":20.989,"type":"quantitative","axis":null},"y2":{"datum":21.349}}},
{"transform":[{"filter":"datum.kind == 'study'"}],"mark":{"type":"square","color":"#b5b5b5","opacity":1},"encoding":{"x":{"field":"or","type":"quantitative"},"y":{"field":"row","type":"quantitative","axis":null},"size":{"field":"w","type":"quantitative","scale":{"domain":[0,65.35],"range":[0,420]},"legend":null}}},
{"transform":[{"filter":"datum.kind == 'study'"}],"mark":{"type":"rule","color":"#1a1a1a","strokeWidth":0.8},"encoding":{"x":{"field":"lo","type":"quantitative","axis":{"values":[0.23529,1,4.25],"labelExpr":"datum.value < 0.99 ? substring(format(datum.value, '.3f'), 1) : (datum.value > 1.01 ? format(datum.value, '.2f') : '1')","title":null,"grid":false,"domain":true,"ticks":true,"labels":true,"offset":-36.3,"domainColor":"#333333","domainWidth":0.9,"tickColor":"#333333","tickWidth":0.9,"tickSize":3.5,"labelFont":"Liberation Sans","labelFontSize":5.9,"labelColor":"#000000","labelPadding":1.5,"labelFlush":false,"labelOverlap":false}},"x2":{"field":"hi"},"y":{"field":"row","type":"quantitative","axis":null}}},
{"transform":[{"filter":"datum.kind == 'study'"}],"mark":{"type":"square","color":"#000000","size":4.5,"opacity":1},"encoding":{"x":{"field":"or","type":"quantitative"},"y":{"field":"row","type":"quantitative","axis":null}}},
{"transform":[{"filter":"datum.kind == 'study' && datum.hi >= 4.24"}],"mark":{"type":"point","shape":"M-1,-0.6L0,0L-1,0.6","filled":false,"color":"#1a1a1a","strokeWidth":0.8,"size":30,"opacity":1},"encoding":{"x":{"field":"hi","type":"quantitative"},"y":{"field":"row","type":"quantitative","axis":null}}},
{"transform":[{"filter":"datum.kind == 'sub' || datum.kind == 'all'"}],"mark":{"type":"point","shape":"M0,-1L0.6,0L0,1L-0.6,0Z","filled":true,"fill":"#f2f2fa","stroke":"#2f2f88","strokeWidth":0.9,"size":49,"opacity":1},"encoding":{"x":{"field":"or","type":"quantitative"},"y":{"field":"row","type":"quantitative","axis":null}}},
{"mark":{"type":"text"},"encoding":{"x":{"datum":0.045625,"type":"quantitative"},"y":{"field":"row","type":"quantitative","axis":null},"text":{"field":"label"}}},
{"transform":[{"filter":"isValid(datum.ci)"}],"mark":{"type":"text","fontSize":4.6},"encoding":{"x":{"datum":4.55632,"type":"quantitative"},"y":{"field":"row","type":"quantitative","axis":null},"text":{"field":"ci"}}},
{"transform":[{"filter":"isValid(datum.wt)"}],"mark":{"type":"text","fontSize":5.8},"encoding":{"x":{"datum":9.47363,"type":"quantitative"},"y":{"field":"row","type":"quantitative","axis":null},"text":{"field":"wt"}}},
{"data":{"values":[{}]},"mark":{"type":"text","text":"E","font":"Liberation Serif","fontSize":12.5},"encoding":{"x":{"datum":0.0467,"type":"quantitative"},"y":{"datum":-3.7631,"type":"quantitative","axis":null}}},
{"data":{"values":[{}]},"mark":{"type":"text","text":"rs252944(C/G)","fontSize":10.5,"align":"center"},"encoding":{"x":{"datum":0.939978,"type":"quantitative"},"y":{"datum":-2.9735,"type":"quantitative","axis":null}}},
{"data":{"values":[{}]},"mark":{"type":"text","text":"Author Year （Case/Control or Trios）"},"encoding":{"x":{"datum":0.045625,"type":"quantitative"},"y":{"datum":-2.02,"type":"quantitative","axis":null}}},
{"data":{"values":[{}]},"mark":{"type":"text","text":"OR (95% CI)","fontSize":5.6},"encoding":{"x":{"datum":4.55632,"type":"quantitative"},"y":{"datum":-2.02,"type":"quantitative","axis":null}}},
{"data":{"values":[{}]},"mark":{"type":"text","text":"%","fontSize":5.6},"encoding":{"x":{"datum":9.47363,"type":"quantitative"},"y":{"datum":-3.2094,"type":"quantitative","axis":null}}},
{"data":{"values":[{}]},"mark":{"type":"text","text":"Weight","fontSize":5.6},"encoding":{"x":{"datum":9.47363,"type":"quantitative"},"y":{"datum":-2.02,"type":"quantitative","axis":null}}}
]},
{"width":392,"height":298,"data":{"name":"F"},"layer":[
{"data":{"values":[{"from":0.08746,"to":7.68623,"r":-0.7153}]},"mark":{"type":"rule","color":"#bdbdbd","strokeWidth":1},"encoding":{"x":{"field":"from","type":"quantitative"},"x2":{"field":"to"},"y":{"field":"r","type":"quantitative","scale":{"domain":[-5.6832,23.5165],"reverse":true,"nice":false,"zero":false},"axis":null}}},
{"data":{"values":[{"from":0.08746,"to":7.68623,"r":19.96}]},"mark":{"type":"rule","color":"#333333","strokeWidth":1},"encoding":{"x":{"field":"from","type":"quantitative"},"x2":{"field":"to"},"y":{"field":"r","type":"quantitative","axis":null}}},
{"data":{"values":[{}]},"mark":{"type":"rule","color":"#3c3c3c","strokeWidth":1},"encoding":{"x":{"datum":1,"type":"quantitative","scale":{"type":"log","domain":[0.08746,7.68623],"range":[11,385.2],"nice":false}},"y":{"datum":-0.7153,"type":"quantitative","axis":null},"y2":{"datum":20.303}}},
{"data":{"values":[{}]},"mark":{"type":"rule","color":"#333333","strokeWidth":0.9},"encoding":{"x":{"datum":0.326797,"type":"quantitative"},"y":{"datum":19.96,"type":"quantitative","axis":null},"y2":{"datum":20.303}}},
{"data":{"values":[{}]},"mark":{"type":"rule","color":"#333333","strokeWidth":0.9},"encoding":{"x":{"datum":3.06,"type":"quantitative"},"y":{"datum":19.96,"type":"quantitative","axis":null},"y2":{"datum":20.303}}},
{"transform":[{"filter":"datum.kind == 'study'"}],"mark":{"type":"square","color":"#b5b5b5","opacity":1},"encoding":{"x":{"field":"or","type":"quantitative"},"y":{"field":"row","type":"quantitative","axis":null},"size":{"field":"w","type":"quantitative","scale":{"domain":[0,75.31],"range":[0,420]},"legend":null}}},
{"transform":[{"filter":"datum.kind == 'study'"}],"mark":{"type":"rule","color":"#1a1a1a","strokeWidth":0.8},"encoding":{"x":{"field":"lo","type":"quantitative","axis":{"values":[0.326797,1,3.06],"labelExpr":"datum.value < 0.99 ? substring(format(datum.value, '.3f'), 1) : (datum.value > 1.01 ? format(datum.value, '.2f') : '1')","title":null,"grid":false,"domain":true,"ticks":true,"labels":true,"offset":-36.3,"domainColor":"#333333","domainWidth":0.9,"tickColor":"#333333","tickWidth":0.9,"tickSize":3.5,"labelFont":"Liberation Sans","labelFontSize":5.9,"labelColor":"#000000","labelPadding":1.5,"labelFlush":false,"labelOverlap":false}},"x2":{"field":"hi"},"y":{"field":"row","type":"quantitative","axis":null}}},
{"transform":[{"filter":"datum.kind == 'study'"}],"mark":{"type":"square","color":"#000000","size":4.5,"opacity":1},"encoding":{"x":{"field":"or","type":"quantitative"},"y":{"field":"row","type":"quantitative","axis":null}}},
{"transform":[{"filter":"datum.kind == 'sub' || datum.kind == 'all'"}],"mark":{"type":"point","shape":"M0,-1L0.6,0L0,1L-0.6,0Z","filled":true,"fill":"#f2f2fa","stroke":"#2f2f88","strokeWidth":0.9,"size":49,"opacity":1},"encoding":{"x":{"field":"or","type":"quantitative"},"y":{"field":"row","type":"quantitative","axis":null}}},
{"mark":{"type":"text"},"encoding":{"x":{"datum":0.091964,"type":"quantitative"},"y":{"field":"row","type":"quantitative","axis":null},"text":{"field":"label"}}},
{"transform":[{"filter":"isValid(datum.ci)"}],"mark":{"type":"text","fontSize":5.7},"encoding":{"x":{"datum":2.3747,"type":"quantitative"},"y":{"field":"row","type":"quantitative","axis":null},"text":{"field":"ci"}}},
{"transform":[{"filter":"isValid(datum.wt)"}],"mark":{"type":"text","fontSize":5.8},"encoding":{"x":{"datum":5.68606,"type":"quantitative"},"y":{"field":"row","type":"quantitative","axis":null},"text":{"field":"wt"}}},
{"data":{"values":[{}]},"mark":{"type":"text","text":"F","font":"Liberation Serif","fontSize":12.5},"encoding":{"x":{"datum":0.093635,"type":"quantitative"},"y":{"datum":-3.694,"type":"quantitative","axis":null}}},
{"data":{"values":[{}]},"mark":{"type":"text","text":"rs187269(C/T)","fontSize":10.5,"align":"center"},"encoding":{"x":{"datum":0.953281,"type":"quantitative"},"y":{"datum":-2.773,"type":"quantitative","axis":null}}},
{"data":{"values":[{}]},"mark":{"type":"text","text":"Author Year （Case/Control or Trios）"},"encoding":{"x":{"datum":0.091964,"type":"quantitative"},"y":{"datum":-2.0283,"type":"quantitative","axis":null}}},
{"data":{"values":[{}]},"mark":{"type":"text","text":"OR (95% CI)","fontSize":5.6},"encoding":{"x":{"datum":2.3747,"type":"quantitative"},"y":{"datum":-2.0283,"type":"quantitative","axis":null}}},
{"data":{"values":[{}]},"mark":{"type":"text","text":"%","fontSize":5.6},"encoding":{"x":{"datum":5.68606,"type":"quantitative"},"y":{"datum":-3.1649,"type":"quantitative","axis":null}}},
{"data":{"values":[{}]},"mark":{"type":"text","text":"Weight","fontSize":5.6},"encoding":{"x":{"datum":5.68606,"type":"quantitative"},"y":{"datum":-2.0283,"type":"quantitative","axis":null}}}
]}
],"spacing":7}
],"spacing":7
}
